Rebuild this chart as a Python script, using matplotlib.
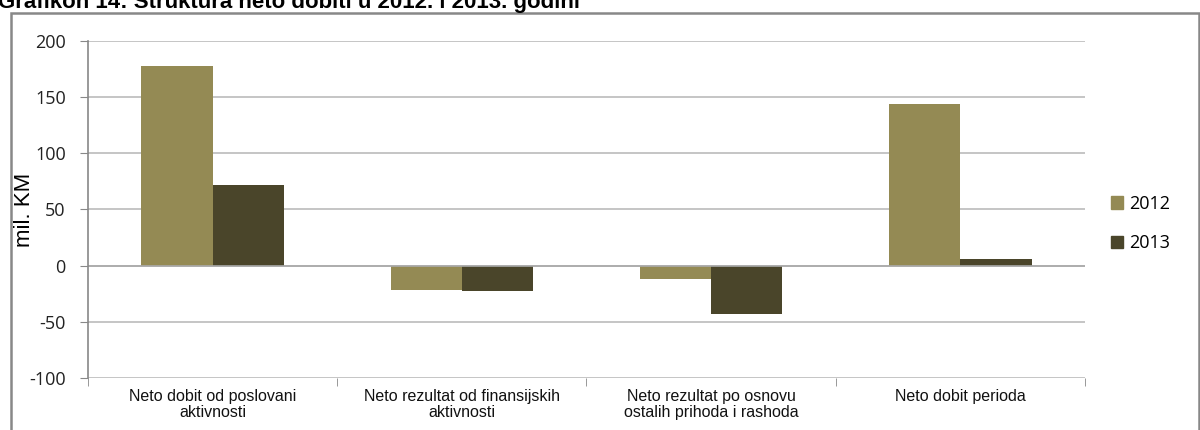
import matplotlib.pyplot as plt
import numpy as np
from matplotlib.patches import Rectangle, Patch

categories = ["Neto dobit od poslovani\naktivnosti",
              "Neto rezultat od finansijskih\naktivnosti",
              "Neto rezultat po osnovu\nostalih prihoda i rashoda",
              "Neto dobit perioda"]
years = ["2012", "2013"]
v2012 = [178, -22, -12, 144]
v2013 = [72, -23, -43, 6]
yticks = [-100, -50, 0, 50, 100, 150, 200]

c2012 = '#948A54'
c2013 = '#4A452A'

fig = plt.figure(figsize=(12, 4.3), dpi=100)
ax = fig.add_axes([0.0733, 0.121, 0.8308, 0.7837])

x = np.arange(len(categories))
w = 0.2857
ax.bar(x - w / 2, v2012, w, color=c2012, label=years[0])
ax.bar(x + w / 2, v2013, w, color=c2013, label=years[1])

ax.set_xlim(-0.5, len(categories) - 0.5)
ax.set_ylim(-100, 200)
ax.set_yticks(yticks)
ax.set_yticklabels([str(t) for t in yticks], fontsize=13, family='Open Sans', color='#222222')
ax.yaxis.grid(True, color='#BBBBBB', linewidth=1.2)
ax.set_axisbelow(True)
ax.tick_params(axis='y', length=6, color='#888888', pad=10)

ax.set_xticks(x)
ax.set_xticklabels(categories, fontsize=11.5, family='Liberation Sans', color='#111111',
                   linespacing=1.05)
ax.tick_params(axis='x', length=0, pad=8)
ax.set_xticks(np.arange(len(categories) + 1) - 0.5, minor=True)
ax.tick_params(axis='x', which='minor', length=6, color='#888888')

ax.axhline(0, color='#AAAAAA', linewidth=1.2, zorder=1)
for s in ['top', 'right']:
    ax.spines[s].set_visible(False)
ax.spines['bottom'].set_visible(False)
ax.spines['left'].set_color('#888888')
ax.spines['left'].set_linewidth(1.2)

ax.set_ylabel("mil. KM", fontsize=16, family='Liberation Sans')
ax.yaxis.set_label_coords(-0.053, 0.5)

handles = [Patch(color=c2012), Patch(color=c2013)]
fig.legend(handles, years, loc='center left', bbox_to_anchor=(0.912, 0.48),
           frameon=False, prop={'family': 'Open Sans', 'size': 13},
           handlelength=0.7, handleheight=0.7, handletextpad=0.3, labelspacing=1.2)

fig.patches.append(Rectangle((10.5 / 1200, -0.05), 1188 / 1200, 1 - 13 / 430 + 0.05,
                             transform=fig.transFigure, fill=False,
                             edgecolor='#888888', linewidth=1.8))

fig.text(-0.002, 1 - 8 / 430, "Grafikon 14: Struktura neto dobiti u 2012. i 2013. godini",
         fontsize=16, fontweight='bold', family='Liberation Sans', va='baseline', ha='left')

fig.savefig('out.png', dpi=100)
